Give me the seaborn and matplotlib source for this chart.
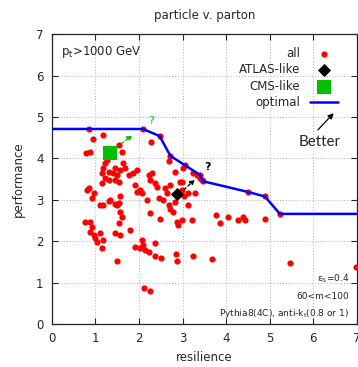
import matplotlib
matplotlib.use("Agg")
import matplotlib.pyplot as plt
import pandas as pd
import seaborn as sns

# red points ("all")
all_x = [0.85, 1.17, 0.94, 0.87, 1.54, 2.09, 2.27, 2.47,
         0.78, 1.61, 1.26, 1.22, 1.18, 1.15, 1.30, 1.45, 1.41, 1.49, 1.64, 1.68,
         1.57, 1.76, 1.87, 1.95, 1.45, 1.30, 1.15, 1.22, 1.53, 0.84, 0.80, 0.96,
         0.92, 1.11, 1.18, 1.30, 1.34, 1.45, 1.53, 1.57, 1.49, 1.91, 1.95, 2.03,
         2.06, 2.22, 2.29, 2.26, 2.37, 2.41, 2.18, 2.26, 2.45, 2.56, 2.64, 2.60,
         2.71, 2.83, 2.68, 2.72, 2.94, 2.98, 3.02, 3.13, 3.29, 3.13, 2.68, 2.71,
         2.79, 2.87, 2.90, 2.98, 3.21, 1.57, 1.61, 1.53, 1.45, 1.57, 1.80, 0.75,
         0.88, 0.92, 0.88, 0.96, 0.99, 1.03, 1.11, 1.18, 1.15, 2.06, 2.10, 2.03,
         2.14, 1.91, 2.22, 2.36, 2.36, 2.50, 2.84, 2.87, 3.24, 3.67, 1.49,
         3.05, 3.00, 3.24, 3.32, 3.39, 3.44, 2.98, 3.40, 3.46,
         2.82, 2.48, 3.76, 3.85, 4.04, 4.27, 4.38, 4.43, 4.89, 4.50, 4.89, 5.23,
         5.46, 6.97, 2.11, 2.25]
all_y = [4.71, 4.57, 4.47, 4.15, 4.32, 4.71, 4.40, 4.54,
         4.14, 4.16, 3.96, 3.88, 3.76, 3.64, 3.68, 3.76, 3.64, 3.60, 3.88, 3.76,
         3.72, 3.60, 3.64, 3.72, 3.48, 3.48, 3.40, 3.52, 3.44, 3.28, 3.24, 3.16,
         3.04, 2.87, 2.87, 2.96, 3.00, 2.91, 2.93, 3.08, 2.87, 3.36, 3.20, 3.24,
         3.16, 3.60, 3.64, 3.48, 3.40, 3.32, 2.99, 2.67, 3.04, 2.99, 3.16, 3.28,
         3.36, 3.68, 3.94, 4.06, 3.44, 3.24, 3.08, 3.16, 3.16, 2.87, 2.87, 2.79,
         2.71, 2.47, 2.39, 2.51, 2.51, 2.71, 2.59, 2.43, 2.19, 2.15, 2.27, 2.47,
         2.47, 2.35, 2.23, 2.15, 2.07, 1.99, 2.19, 2.03, 1.83, 2.03, 1.91, 1.83,
         1.79, 1.87, 1.75, 1.95, 1.64, 1.60, 1.69, 1.52, 1.64, 1.57, 1.52,
         3.84, 3.77, 3.65, 3.60, 3.53, 3.48, 3.43, 3.60, 3.45,
         2.95, 2.54, 2.63, 2.44, 2.58, 2.51, 2.58, 2.51, 2.54, 3.19, 3.08, 2.66,
         1.47, 1.38, 0.87, 0.80]

atlas_x = [2.88]
atlas_y = [3.14]
cms_x = [1.33]
cms_y = [4.13]

# optimal front
opt_x = [0.0, 2.09, 2.47, 2.72, 3.40, 3.46, 4.50, 4.89, 5.23, 7.0]
opt_y = [4.71, 4.71, 4.54, 4.06, 3.60, 3.45, 3.19, 3.08, 2.66, 2.66]

sns.set_style("ticks")
plt.rcParams["font.family"] = ["DejaVu Sans"]

fig = plt.figure(figsize=(3.58, 3.67), dpi=100)
ax = fig.add_axes([0.145, 0.117, 0.852, 0.79])

pts = pd.DataFrame({"x": all_x, "y": all_y})
sns.scatterplot(data=pts, x="x", y="y", color="#ff0000", s=20, linewidth=0,
                ax=ax, label="all", zorder=3)
sns.lineplot(x=opt_x, y=opt_y, sort=False, color="#0000ff", lw=1.8,
             ax=ax, label="optimal", zorder=4)
sns.scatterplot(x=atlas_x, y=atlas_y, marker="D", color="black", s=45,
                linewidth=0, ax=ax, label="ATLAS-like", zorder=5)
sns.scatterplot(x=cms_x, y=cms_y, marker="s", color="#00c000", s=90,
                linewidth=0, ax=ax, label="CMS-like", zorder=5)

# hint arrows
ax.annotate("", xy=(1.90, 4.59), xytext=(1.54, 4.32),
            arrowprops=dict(arrowstyle="-|>", color="#00c000", lw=1.0,
                            ls=(0, (2, 2)), mutation_scale=7), zorder=6)
ax.text(2.28, 4.9, "?", color="#00c000", fontsize=8, ha="center", va="center")
ax.annotate("", xy=(3.33, 3.53), xytext=(2.98, 3.20),
            arrowprops=dict(arrowstyle="-|>", color="black", lw=1.0,
                            ls=(0, (2, 2)), mutation_scale=7), zorder=6)
ax.text(3.58, 3.79, "?", color="black", fontsize=8, fontweight="bold",
        ha="center", va="center")

ax.annotate("", xy=(6.51, 5.14), xytext=(6.06, 4.64),
            arrowprops=dict(arrowstyle="-|>", color="black", lw=0.9,
                            mutation_scale=8))
ax.text(6.15, 4.40, "Better", fontsize=11, family="Lato",
        ha="center", va="center")

ax.text(0.03, 0.965, r"$\mathregular{p_t}$>1000 GeV", transform=ax.transAxes,
        fontsize=8.5, ha="left", va="top")
ax.text(0.975, 0.155, r"$\mathregular{\epsilon_S}$=0.4", transform=ax.transAxes,
        fontsize=6.5, ha="right", va="center")
ax.text(0.975, 0.095, "60<m<100", transform=ax.transAxes,
        fontsize=6.5, ha="right", va="center")
ax.text(0.975, 0.035, r"Pythia8(4C), anti-$\mathregular{k_t}$(0.8 or 1)",
        transform=ax.transAxes, fontsize=6.5, ha="right", va="center")

h, l = ax.get_legend_handles_labels()
order = [l.index(k) for k in ["all", "ATLAS-like", "CMS-like", "optimal"]]
ax.legend([h[i] for i in order], [l[i] for i in order], loc="upper right",
          bbox_to_anchor=(0.965, 0.985), frameon=False, markerfirst=False,
          fontsize=8.5, handlelength=2.4, labelspacing=0.3, handletextpad=0.8,
          borderpad=0.2)

ax.set_xlim(0, 7)
ax.set_ylim(0, 7)
ax.set_xticks(range(8))
ax.set_yticks(range(8))
ax.grid(True, color="#b0b0b0", ls=(0, (1, 2)), lw=0.7)
ax.tick_params(direction="in", top=True, right=True, labelsize=8.5,
               length=4, width=0.8, pad=6)
for s in ax.spines.values():
    s.set_linewidth(0.9)
ax.set_title("particle v. parton", fontsize=8.5, pad=11)
ax.set_xlabel("resilience", fontsize=8.5, labelpad=4)
ax.set_ylabel("performance", fontsize=8.5, labelpad=8)

fig.savefig("out.png", dpi=100)
